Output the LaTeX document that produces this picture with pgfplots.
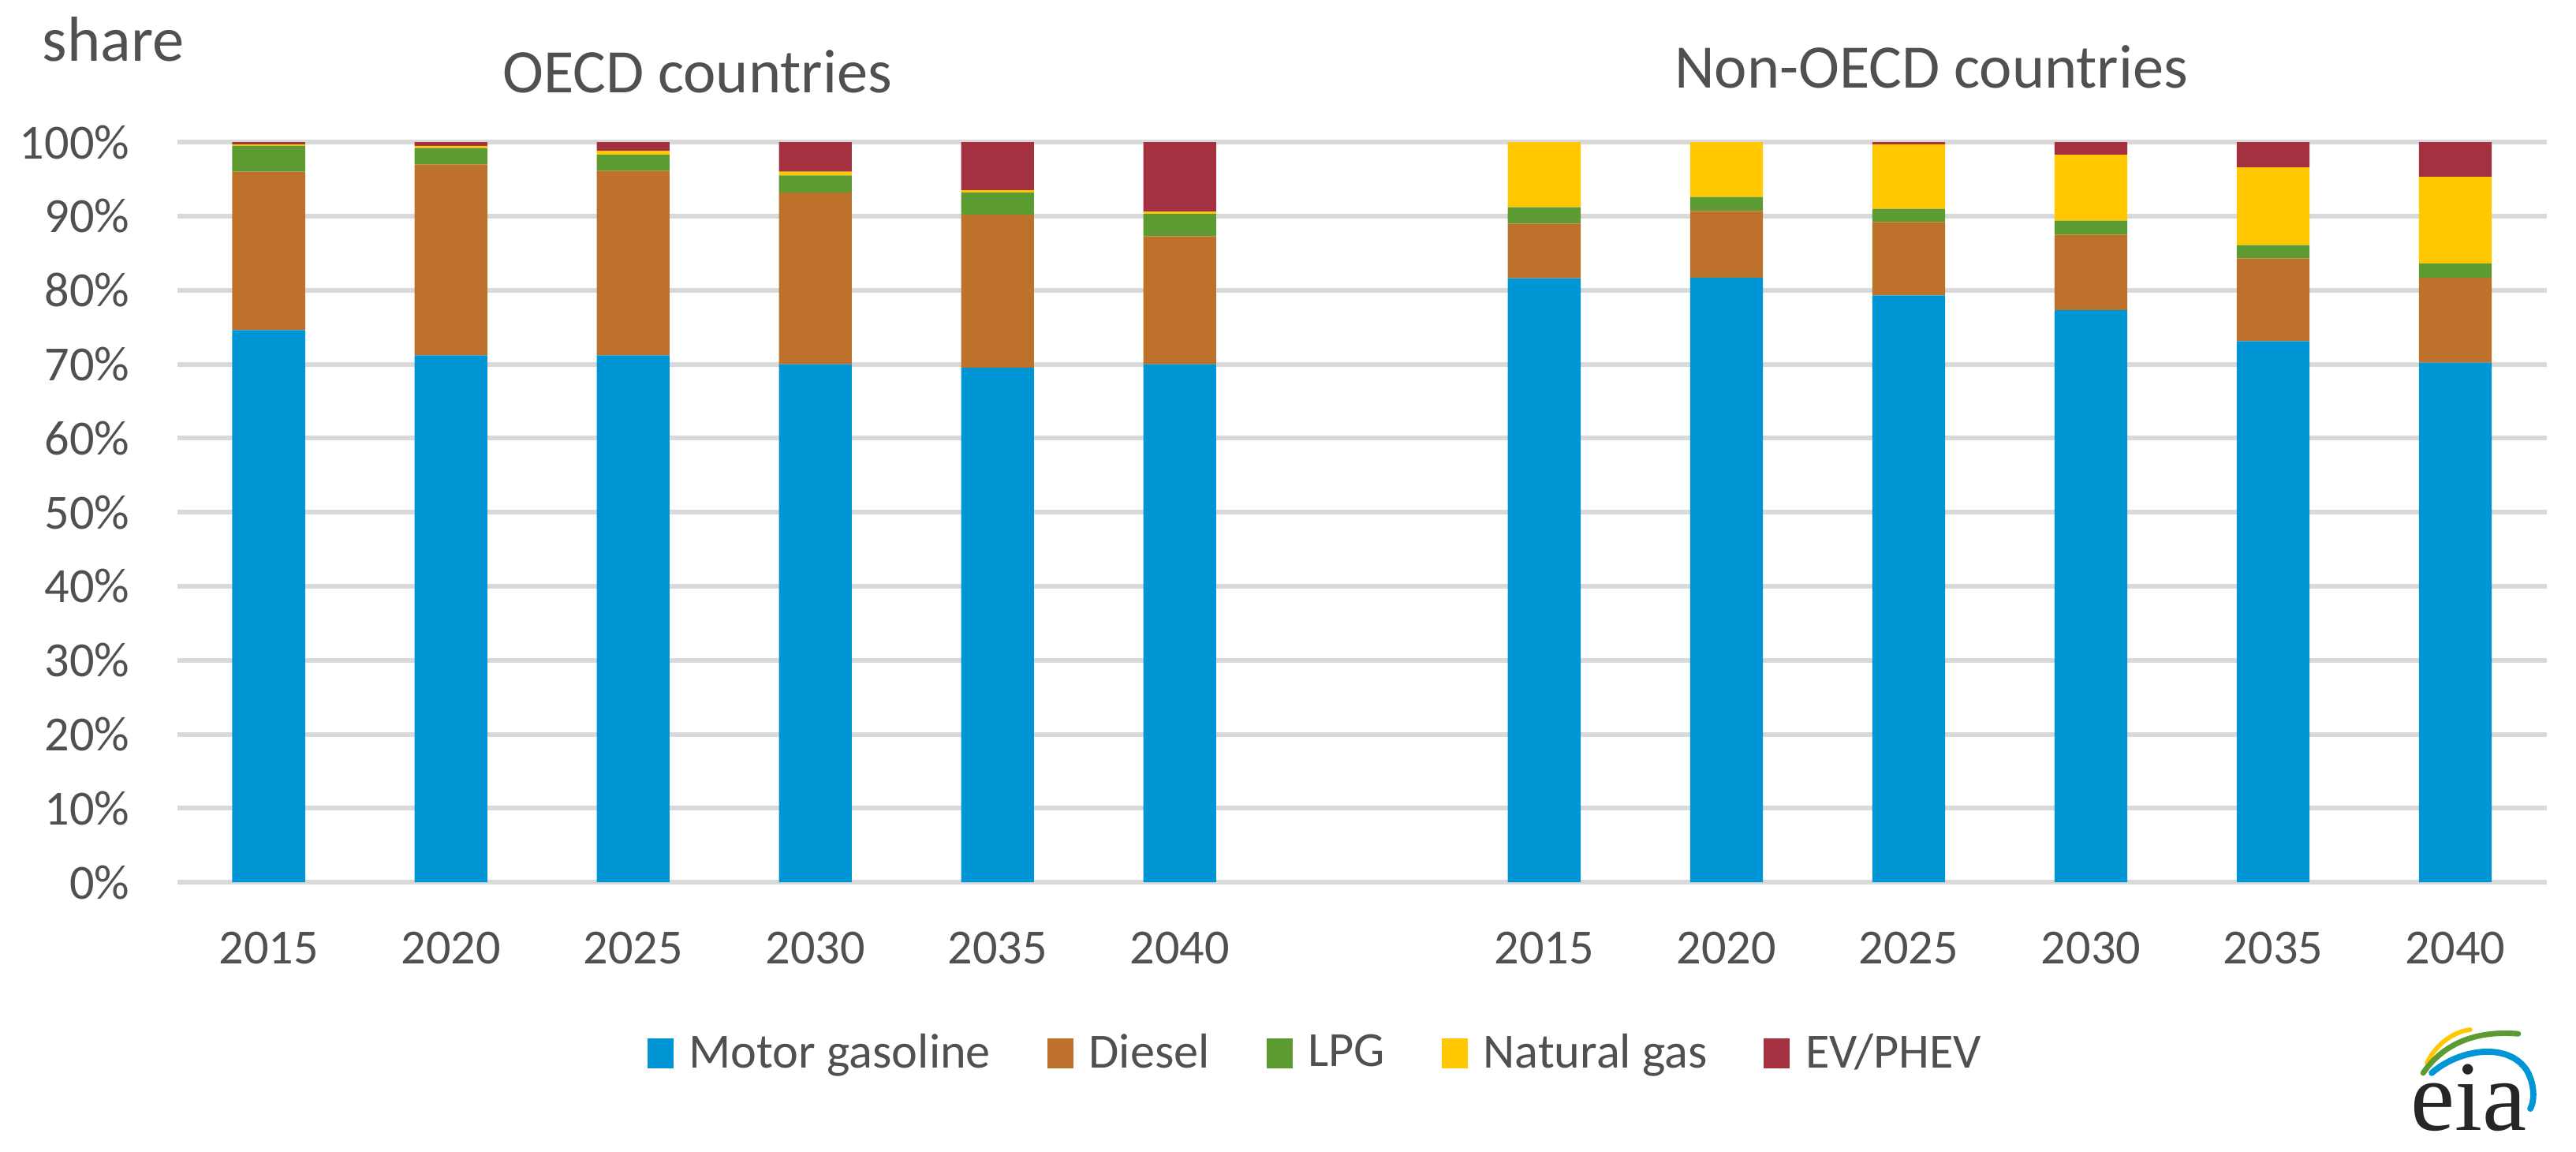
\documentclass[border=0pt]{standalone}
\usepackage{pgfplots}
\pgfplotsset{compat=1.18}
\usepackage{pgfplotstable}
\usepackage{fontspec}
\setmainfont{Carlito}
\newfontfamily\seriffont{Liberation Serif}
\definecolor{cgas}{HTML}{0096D6}
\definecolor{cdiesel}{HTML}{BD712A}
\definecolor{clpg}{HTML}{5C9A32}
\definecolor{cng}{HTML}{FFC800}
\definecolor{cev}{HTML}{A3313F}
\definecolor{ctext}{HTML}{505050}
\definecolor{cgrid}{HTML}{D9D9D9}

\pgfplotstableread{
x  gas   diesel lpg  ng    ev
0  74.6  21.4   3.5  0.2   0.3
1  71.2  25.8   2.2  0.3   0.5
2  71.2  24.9   2.2  0.5   1.2
3  70.0  23.2   2.3  0.5   4.0
4  69.5  20.7   3.0  0.3   6.5
5  70.0  17.3   3.0  0.3   9.4
7  81.6  7.4    2.2  8.8   0.0
8  81.7  9.0    1.9  7.4   0.0
9  79.3  9.9    1.8  8.7   0.3
10 77.3  10.2   1.9  8.9   1.7
11 73.1  11.2   1.8  10.5  3.4
12 70.2  11.5   1.9  11.7  4.7
}\data

\begin{document}
\begin{tikzpicture}
\path[use as bounding box] (0,0) rectangle (750pt,335.27pt);
\begin{axis}[
  at={(51.7pt,78.5pt)}, anchor=south west,
  scale only axis,
  width=689.7pt, height=215.4pt,
  xmin=-0.5, xmax=12.5, ymin=0, ymax=100,
  ybar stacked, bar width=21.2pt,
  axis line style={draw=none},
  tick style={draw=none},
  ymajorgrids, major grid style={draw=cgrid, line width=1.4pt},
  ytick={0,10,...,100},
  yticklabels={0\%,10\%,20\%,30\%,40\%,50\%,60\%,70\%,80\%,90\%,100\%},
  xtick={0,1,2,3,4,5,7,8,9,10,11,12},
  xticklabels={2015,2020,2025,2030,2035,2040,2015,2020,2025,2030,2035,2040},
  tick label style={font=\fontsize{14.3}{17}\selectfont, text=ctext, inner sep=0pt},
  yticklabel style={anchor=east, xshift=-13.8pt},
  xticklabel style={anchor=base, yshift=-23.7pt},
  legend columns=5,
  legend style={draw=none, at={(0.4814,-0.231)}, anchor=center,
    font=\fontsize{14.3}{17}\selectfont, text=ctext,
    /tikz/every odd column/.append style={column sep=2.5pt},
    /tikz/every even column/.append style={column sep=14.5pt},
    nodes={inner sep=2pt}},
  legend image code/.code={\fill[#1] (0pt,-4.35pt) rectangle (7.6pt,4.35pt);},
  every axis plot/.append style={draw=none},
]
\addplot[fill=cgas] table[x=x,y=gas] {\data};
\addplot[fill=cdiesel] table[x=x,y=diesel] {\data};
\addplot[fill=clpg] table[x=x,y=lpg] {\data};
\addplot[fill=cng] table[x=x,y=ng] {\data};
\addplot[fill=cev] table[x=x,y=ev] {\data};
\legend{Motor gasoline,Diesel,LPG,Natural gas,EV/PHEV}
\end{axis}
\node[anchor=base west, inner sep=0pt, text=ctext, font=\fontsize{18.5}{22}\selectfont] at (12.2pt,317.4pt) {share};
\node[anchor=base, inner sep=0pt, text=ctext, font=\fontsize{18}{22}\selectfont] at (203pt,308.2pt) {OECD countries};
\node[anchor=base, inner sep=0pt, text=ctext, font=\fontsize{18}{22}\selectfont] at (562.3pt,309.6pt) {Non-OECD countries};
% eia logo
\node[anchor=base west, inner sep=0pt, text=black!85, font=\seriffont\fontsize{29}{30}\selectfont] at (701.6pt,6.2pt) {eia};
\draw[cng, line width=1.3pt, line cap=round] (706.6pt,25.9pt) .. controls (709pt,31pt) and (714pt,35pt) .. (719.2pt,35.6pt);
\draw[clpg, line width=1.6pt, line cap=round] (705.5pt,23.0pt) .. controls (711pt,31pt) and (720pt,35.5pt) .. (733.2pt,34.4pt);
\draw[cgas, line width=1.8pt, line cap=round] (708.0pt,23.0pt) .. controls (716pt,30pt) and (730pt,32pt) .. (735.5pt,24pt) .. controls (738pt,20pt) and (738pt,15pt) .. (736.7pt,12.6pt);
\end{tikzpicture}
\end{document}
